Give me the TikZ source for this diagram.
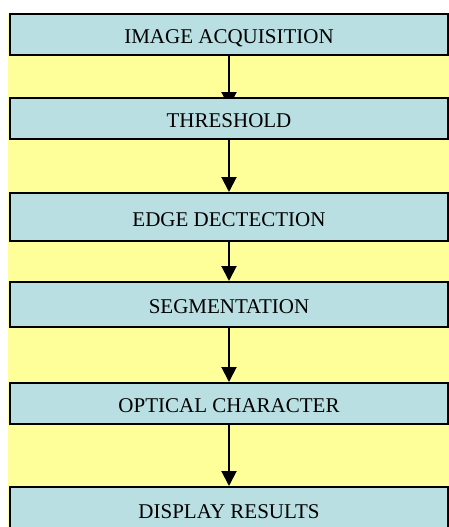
\documentclass[tikz,border=0pt]{standalone}
\usepackage{fontspec}
\setmainfont{Liberation Serif}
\usetikzlibrary{arrows.meta}
\definecolor{panelyellow}{RGB}{255,255,153}
\definecolor{stepblue}{RGB}{185,223,227}
\pgfdeclarelayer{back}
\pgfsetlayers{back,main}
\begin{document}
\begin{tikzpicture}[x=1pt,y=-1pt,
  stage/.style={draw=black, line width=2pt, fill=stepblue, anchor=north,
    minimum width=438pt, inner sep=0pt,
    font=\fontsize{21}{25}\selectfont, text height=18pt, text depth=0pt},
  flow/.style={line width=2pt, -{Triangle[width=15pt,length=15pt]}}]
  \useasboundingbox (0,0) rectangle (449,527);
  \clip (0,0) rectangle (449,527);

  % process steps
  \node[stage, minimum height=41pt] (acq)  at (229,13)  {IMAGE ACQUISITION};
  \node[stage, minimum height=41pt] (thr)  at (229,97)  {THRESHOLD};
  \node[stage, minimum height=48pt] (edge) at (229,192) {EDGE DECTECTION};
  \node[stage, minimum height=45pt] (seg)  at (229,281) {SEGMENTATION};
  \node[stage, minimum height=41pt] (ocr)  at (229,382) {OPTICAL CHARACTER};
  \node[stage, minimum height=44pt] (disp) at (229,486) {DISPLAY RESULTS};

  % first arrowhead tucks under the threshold box
  \coordinate (thrtip) at ([yshift=-10pt]thr.north);

  \begin{pgfonlayer}{back}
    \fill[panelyellow] (8,13) rectangle (449,527);
    \draw[flow] (acq.south) -- (thrtip);
    \draw[flow] (thr.south) -- (edge.north);
    \draw[flow] (edge.south) -- (seg.north);
    \draw[flow] (seg.south) -- (ocr.north);
    \draw[flow] (ocr.south) -- (disp.north);
  \end{pgfonlayer}
\end{tikzpicture}
\end{document}
